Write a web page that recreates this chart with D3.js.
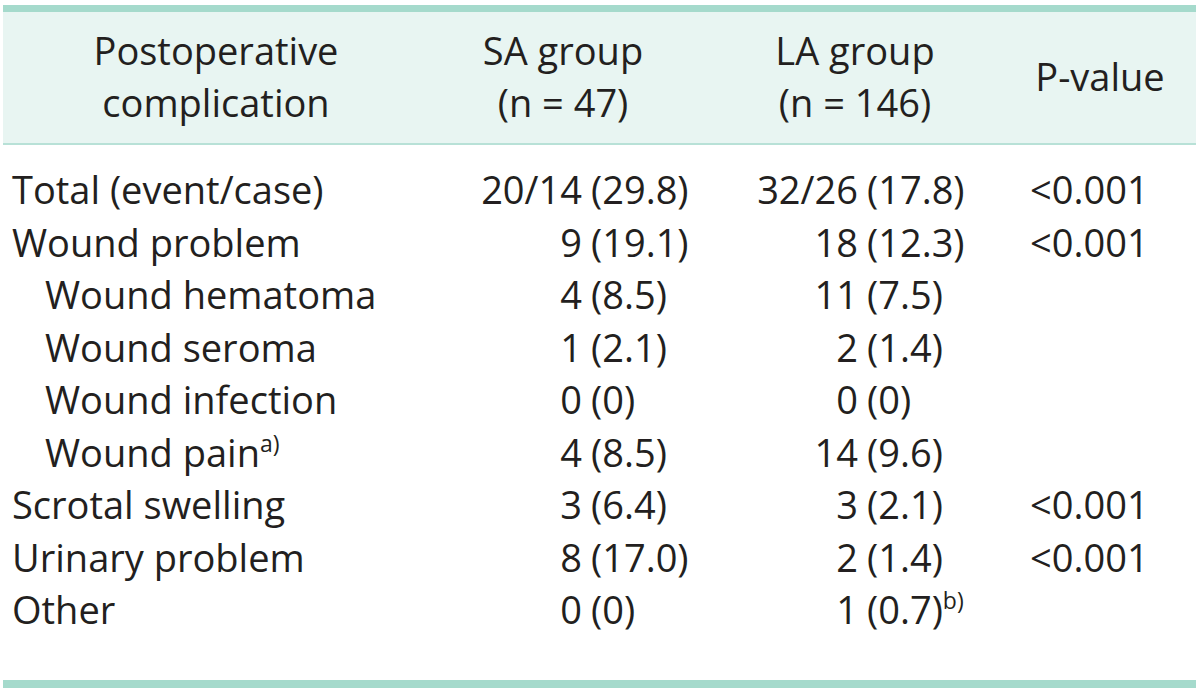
<!DOCTYPE html>
<html lang="en">
<head>
    <meta charset="UTF-8">
    <title>Postoperative complications</title>
    <script src="https://d3js.org/d3.v7.min.js"></script>
    <style>
        body, html {
            margin: 0;
            background-color: #ffffff;
            overflow: hidden;
        }
        svg text {
            font-family: 'Open Sans', sans-serif;
            fill: #231f20;
        }
    </style>
</head>
<body>
<svg id="table" width="1200" height="689"></svg>

<script>
    // table contents
    const headers = [
        ["Postoperative", "complication"],
        ["SA group", "(n = 47)"],
        ["LA group", "(n = 146)"],
        ["P-value"]
    ];
    const rowLabels = ["Total (event/case)", "Wound problem", "Wound hematoma", "Wound seroma",
        "Wound infection", "Wound pain", "Scrotal swelling", "Urinary problem", "Other"];
    const rowLevel = [0, 0, 1, 1, 1, 1, 0, 0, 0];
    const labelNotes = ["", "", "", "", "", "a)", "", "", ""];
    const saCounts = ["20/14", "9", "4", "1", "0", "4", "3", "8", "0"];
    const saPct = ["29.8", "19.1", "8.5", "2.1", "0", "8.5", "6.4", "17.0", "0"];
    const laCounts = ["32/26", "18", "11", "2", "0", "14", "3", "2", "1"];
    const laPct = ["17.8", "12.3", "7.5", "1.4", "0", "9.6", "2.1", "1.4", "0.7"];
    const laNotes = ["", "", "", "", "", "", "", "", "b)"];
    const pValues = ["<0.001", "<0.001", "", "", "", "", "<0.001", "<0.001", ""];

    const fontSize = 38;
    const supSize = 23;
    const left = 3, right = 1196;
    const teal = "#a5dacc";

    const svg = d3.select("#table");

    // rows placed with a point scale
    const y = d3.scalePoint()
        .domain(d3.range(rowLabels.length))
        .range([204, 624]);

    // header centres
    const headerX = [216, 563, 855, 1100];

    // background + rules
    svg.append("rect")
        .attr("x", left).attr("y", 12)
        .attr("width", right - left).attr("height", 132)
        .attr("fill", "#e8f5f2");
    svg.append("rect")
        .attr("x", left).attr("y", 5)
        .attr("width", right - left).attr("height", 7)
        .attr("fill", teal);
    svg.append("rect")
        .attr("x", left).attr("y", 143)
        .attr("width", right - left).attr("height", 2)
        .attr("fill", "#b8e1d7");
    svg.append("rect")
        .attr("x", left).attr("y", 680)
        .attr("width", right - left).attr("height", 8)
        .attr("fill", teal);

    // header text
    headers.forEach((lines, i) => {
        const baselines = lines.length === 2 ? [65, 117] : [91];
        lines.forEach((line, j) => {
            svg.append("text")
                .attr("x", headerX[i])
                .attr("y", baselines[j])
                .attr("text-anchor", "middle")
                .style("font-size", fontSize + "px")
                .text(line);
        });
    });

    // first column
    rowLabels.forEach((label, i) => {
        const t = svg.append("text")
            .attr("x", 12 + rowLevel[i] * 33)
            .attr("y", y(i))
            .style("font-size", fontSize + "px")
            .text(label);
        if (labelNotes[i]) {
            t.append("tspan")
                .attr("dy", -15)
                .style("font-size", supSize + "px")
                .text(labelNotes[i]);
        }
    });

    // count/percent columns: count right-aligned, "(pct)" lined up on the bracket
    function valueColumn(counts, pcts, notes, countX, bracketX) {
        counts.forEach((c, i) => {
            svg.append("text")
                .attr("x", countX)
                .attr("y", y(i))
                .attr("text-anchor", "end")
                .style("font-size", fontSize + "px")
                .text(c);
            const t = svg.append("text")
                .attr("x", bracketX)
                .attr("y", y(i))
                .style("font-size", fontSize + "px")
                .text("(" + pcts[i] + ")");
            if (notes && notes[i]) {
                t.append("tspan")
                    .attr("dy", -15)
                    .style("font-size", supSize + "px")
                    .text(notes[i]);
            }
        });
    }
    valueColumn(saCounts, saPct, null, 582, 591);
    valueColumn(laCounts, laPct, laNotes, 858, 867);

    pValues.forEach((p, i) => {
        if (!p) return;
        svg.append("text")
            .attr("x", 1030)
            .attr("y", y(i))
            .style("font-size", fontSize + "px")
            .text(p);
    });
</script>
</body>
</html>
